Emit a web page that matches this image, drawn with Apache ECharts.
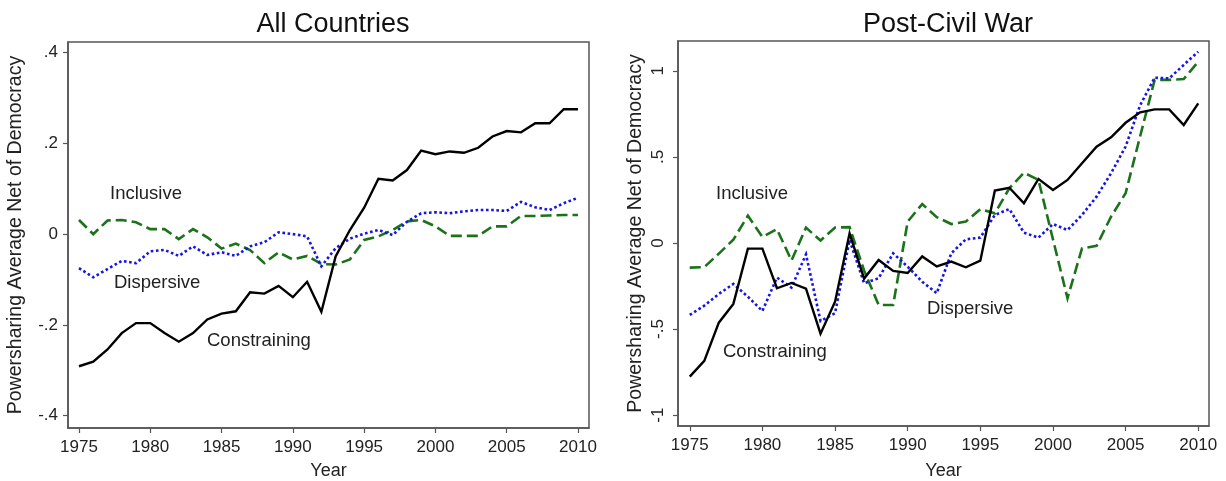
<!DOCTYPE html>
<html><head><meta charset="utf-8">
<script src="https://cdn.jsdelivr.net/npm/echarts@6/dist/echarts.min.js"></script>
<style>html,body{margin:0;padding:0;background:#fff}#c{width:1226px;height:481px}</style>
</head><body><div id="c"></div>
<script>
const years = [];
for (let y = 1975; y <= 2010; y++) years.push(y);
const xTicks = [1975,1980,1985,1990,1995,2000,2005,2010];
const leftYTicks = [-0.4,-0.2,0,0.2,0.4];
const rightYTicks = [-1,-0.5,0,0.5,1];

const allConstraining = [-0.291,-0.281,-0.254,-0.218,-0.196,-0.196,-0.218,-0.237,-0.218,-0.188,-0.175,-0.170,-0.128,-0.131,-0.114,-0.139,-0.105,
  -0.171,-0.049,0.009,0.058,0.122,0.118,0.141,0.184,0.176,0.182,0.179,0.190,0.215,0.227,0.224,0.244,0.244,0.275,0.275];
const allInclusive = [0.031,0.000,0.030,0.031,0.026,0.011,0.011,-0.011,0.011,-0.007,-0.032,-0.021,-0.035,-0.064,-0.040,-0.056,-0.048,
  -0.066,-0.067,-0.056,-0.013,-0.005,0.009,0.028,0.031,0.017,-0.004,-0.004,-0.004,0.017,0.017,0.040,0.040,0.041,0.042,0.042];
const allDispersive = [-0.075,-0.095,-0.077,-0.059,-0.064,-0.038,-0.035,-0.048,-0.027,-0.046,-0.040,-0.048,-0.027,-0.018,0.004,0.000,-0.005,
  -0.071,-0.031,-0.010,0.001,0.009,-0.002,0.027,0.046,0.048,0.046,0.050,0.053,0.053,0.051,0.071,0.059,0.053,0.068,0.080];

const pcwConstraining = [-0.776,-0.685,-0.463,-0.354,-0.033,-0.033,-0.263,-0.232,-0.265,-0.527,-0.341,0.056,-0.207,-0.099,-0.162,-0.174,
  -0.078,-0.136,-0.108,-0.141,-0.103,0.304,0.321,0.231,0.372,0.308,0.366,0.463,0.559,0.614,0.698,0.759,0.776,0.776,0.685,0.811];
const pcwInclusive = [-0.143,-0.140,-0.062,0.019,0.158,0.035,0.080,-0.102,0.089,0.014,0.090,0.092,-0.160,-0.360,-0.360,0.124,
  0.226,0.150,0.110,0.124,0.196,0.172,0.318,0.408,0.366,0.021,-0.321,-0.031,-0.017,0.153,0.289,0.620,0.947,0.947,0.952,1.053];
const pcwDispersive = [-0.418,-0.364,-0.296,-0.238,-0.312,-0.395,-0.201,-0.259,-0.066,-0.453,-0.408,0.017,-0.234,-0.205,-0.060,-0.138,
  -0.225,-0.292,-0.060,0.021,0.031,0.163,0.197,0.060,0.031,0.110,0.075,0.163,0.269,0.405,0.560,0.800,0.960,0.956,1.034,1.111];

const FONT = 'Liberation Sans, Arial, sans-serif';
const fmt = v => { const r = Math.round(v*10)/10; if (r === 0) return '0'; return (r<0?'-':'') + String(Math.abs(r)).replace(/^0/, ''); };
const pair = arr => years.map((y,i)=>[y, arr[i]]);

const BLACK = '#000000', GREEN = '#1b721b', BLUE = '#1414e6';
function mk(name, data, idx, color, type, w) {
  return { name, type:'line', xAxisIndex:idx, yAxisIndex:idx, data:pair(data), symbol:'none', silent:true,
    lineStyle:{ color, width:w, type, cap:'butt', join:'miter' } };
}
function xAx(idx, gap) {
  return { gridIndex:idx, type:'value', min: idx===0?1974.23:1974.19, max: idx===0?2010.77:2010.74,
    name:'Year', nameLocation:'middle', nameGap:gap, nameTextStyle:{fontFamily:FONT,fontSize:18,color:'#222'},
    axisLine:{show:true,onZero:false,lineStyle:{color:'#555',width:1.5}},
    axisTick:{show:true,length:5,customValues:xTicks,lineStyle:{color:'#555',width:1.2}},
    axisLabel:{customValues:xTicks,formatter:v=>String(Math.round(v)),fontFamily:FONT,fontSize:17,color:'#222',margin:11},
    splitLine:{show:false} };
}
const option = {
  backgroundColor:'#fff',
  animation:false,
  title:[
    {text:'All Countries', left:328, top:6, textAlign:'center', textStyle:{fontFamily:FONT,fontSize:27,fontWeight:'normal',color:'#111'}},
    {text:'Post-Civil War', left:943, top:6, textAlign:'center', textStyle:{fontFamily:FONT,fontSize:27,fontWeight:'normal',color:'#111'}}
  ],
  grid:[
    {left:68, right:637, top:42, bottom:53, outerBoundsMode:'none', containLabel:false, show:true, borderColor:'#555', borderWidth:1.5, backgroundColor:'#fff'},
    {left:678, right:17, top:41, bottom:55, outerBoundsMode:'none', containLabel:false, show:true, borderColor:'#555', borderWidth:1.5, backgroundColor:'#fff'}
  ],
  xAxis:[ xAx(0, 34), xAx(1, 36) ],
  yAxis:[
    { gridIndex:0, type:'value', min:-0.427, max:0.423,
      name:'Powersharing Average Net of Democracy', nameLocation:'middle', nameGap:42,
      nameTextStyle:{fontFamily:FONT,fontSize:19.5,color:'#222'},
      axisLine:{show:true,lineStyle:{color:'#555',width:1.5}},
      axisTick:{show:true,length:5,customValues:leftYTicks,lineStyle:{color:'#555',width:1.2}},
      axisLabel:{customValues:leftYTicks,formatter:fmt,fontFamily:FONT,fontSize:17,color:'#222',margin:10},
      splitLine:{show:false} },
    { gridIndex:1, type:'value', min:-1.063, max:1.173,
      name:'Powersharing Average Net of Democracy', nameLocation:'middle', nameGap:32,
      nameTextStyle:{fontFamily:FONT,fontSize:19.5,color:'#222'},
      axisLine:{show:true,lineStyle:{color:'#555',width:1.5}},
      axisTick:{show:true,length:5,customValues:rightYTicks,lineStyle:{color:'#555',width:1.2}},
      axisLabel:{customValues:rightYTicks,formatter:fmt,rotate:90,fontFamily:FONT,fontSize:17,color:'#222',margin:11},
      splitLine:{show:false} }
  ],
  series:[
    mk('Inclusive', allInclusive, 0, GREEN, [11,5], 2.6),
    mk('Dispersive', allDispersive, 0, BLUE, [2.6,2.6], 2.6),
    mk('Constraining', allConstraining, 0, BLACK, 'solid', 2.4),
    mk('Inclusive', pcwInclusive, 1, GREEN, [11,5], 2.6),
    mk('Dispersive', pcwDispersive, 1, BLUE, [2.6,2.6], 2.6),
    mk('Constraining', pcwConstraining, 1, BLACK, 'solid', 2.4)
  ],
  graphic:[
    ['Inclusive',110,195],['Dispersive',114,284],['Constraining',207,342],
    ['Inclusive',716,195],['Constraining',723,353],['Dispersive',927,310]
  ].map(([t,x,y])=>({type:'text', left:x, top:y-11, silent:true,
      style:{text:t, fontFamily:FONT, fontSize:18.5, fill:'#222'}}))
};
const chart = echarts.init(document.getElementById('c'), null, {renderer:'canvas'});
chart.setOption(option);
</script></body></html>
